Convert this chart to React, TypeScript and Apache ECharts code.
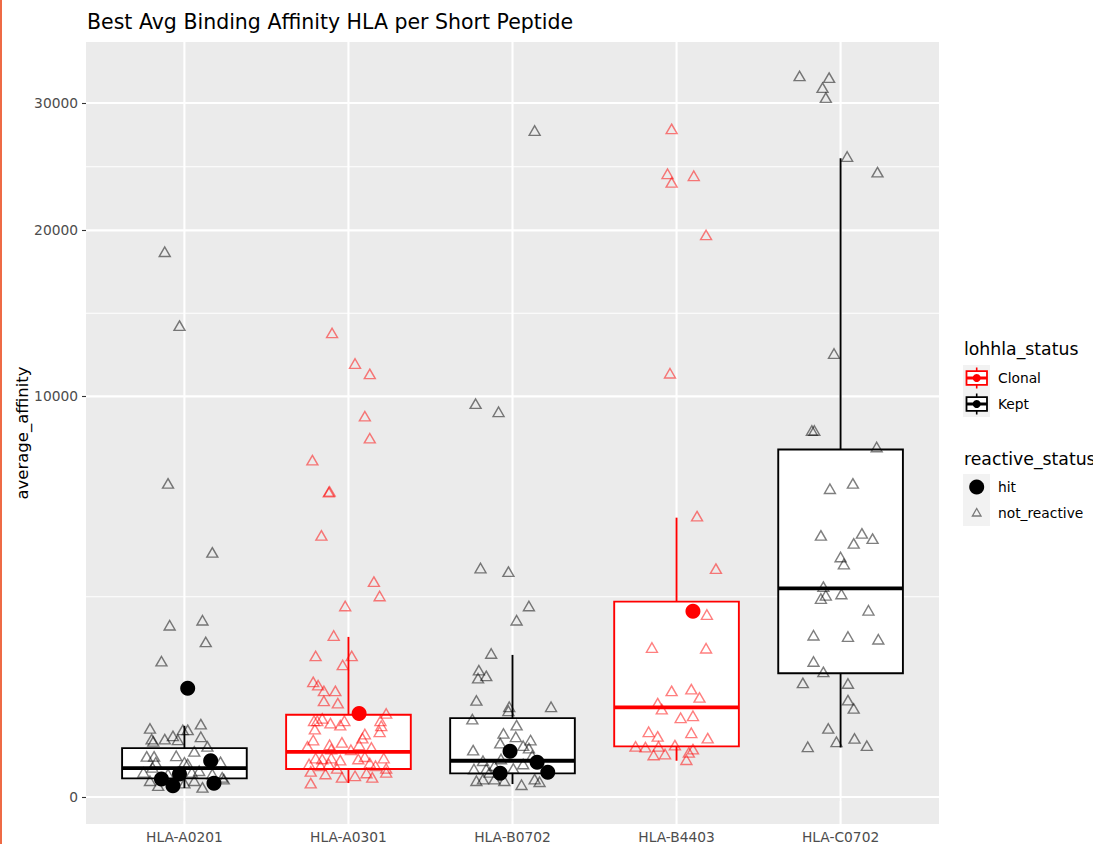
import React, { useEffect, useRef } from 'react';
import * as echarts from 'echarts';

// ---- data -------------------------------------------------------------
const categories = ['HLA-A0201', 'HLA-A0301', 'HLA-B0702', 'HLA-B4403', 'HLA-C0702'];
const lohhlaStatus = ['Kept', 'Clonal', 'Kept', 'Clonal', 'Kept'];

// box statistics per HLA (average_affinity)
const whiskerLow = [5, 12.2, 10.5, 82, 153];
const quartile1 = [21.7, 48.7, 34.9, 160, 955];
const medians = [52, 127, 82, 500, 2714];
const quartile3 = [149, 421, 388, 2379, 7524];
const whiskerHigh = [316, 1597, 1258, 4861, 25424];

// y tick labels (sqrt-transformed axis)
const yTicks = [0, 10000, 20000, 30000];

// jittered peptides: [horizontal jitter, average_affinity]
const notReactiveA0201 = [
  [-0.12, 18520], [-0.03, 13841], [-0.1, 6126], [0.17, 3729], [0.11, 1946], [-0.09, 1838], [0.13, 1498], [-0.14, 1149],
  [-0.21, 293], [0.1, 331], [-0.01, 281], [0.02, 281], [-0.2, 209], [-0.19, 193], [-0.12, 209], [-0.07, 233], [-0.04, 204],
  [0.1, 226], [0.14, 160], [0.06, 130], [-0.23, 103], [-0.185, 103], [-0.05, 106], [-0.175, 75], [0.0, 75], [0.02, 68],
  [0.22, 77], [-0.25, 38], [-0.195, 55], [-0.1, 33], [0.045, 38], [0.09, 43], [0.23, 24], [-0.21, 16.5], [-0.16, 8],
  [0.0, 12], [0.06, 16.5], [0.11, 5.8], [0.17, 33], [0.24, 20],
];
const hitA0201 = [[0.02, 738], [0.16, 82], [-0.14, 20], [-0.03, 33], [-0.07, 8], [0.18, 12]];

const notReactiveA0301 = [
  [-0.1, 13416], [0.04, 11703], [0.13, 11153], [0.1, 9033], [0.13, 8021], [-0.22, 7068], [-0.115, 5817], [-0.12, 5790],
  [-0.165, 4265], [0.155, 2890], [0.19, 2517], [-0.02, 2273], [-0.09, 1624], [-0.2, 1240], [0.02, 1240], [-0.035, 1087],
  [-0.215, 826], [-0.185, 779], [-0.15, 702], [-0.08, 702], [-0.15, 576], [-0.065, 549], [0.23, 435],
  [-0.21, 362], [-0.19, 362], [-0.11, 340], [-0.05, 322], [-0.025, 362], [0.195, 362], [-0.16, 385], [-0.205, 287],
  [0.2, 316], [0.19, 265], [0.1, 247], [0.085, 216], [-0.215, 202], [-0.115, 170], [-0.04, 186], [0.065, 170],
  [-0.25, 160], [0.14, 153], [0.015, 139], [-0.105, 143],
  [-0.2, 94.5], [-0.16, 90], [-0.105, 94.5], [-0.05, 85], [0.06, 90], [0.1, 101], [0.215, 94.5], [-0.24, 68],
  [-0.17, 61], [-0.12, 68], [-0.07, 51], [0.13, 72], [0.165, 61], [0.23, 51], [-0.23, 41], [-0.14, 33], [-0.04, 24],
  [0.04, 28], [0.11, 36], [0.145, 24], [0.23, 38], [-0.23, 12],
];
const hitA0301 = [[0.065, 435]];

const notReactiveB0702 = [
  [0.135, 27665], [-0.225, 9635], [-0.085, 9243], [-0.195, 3266], [-0.025, 3165], [0.1, 2273], [0.025, 1946],
  [-0.13, 1283], [-0.205, 1002], [-0.21, 880], [-0.16, 914], [-0.22, 581], [-0.02, 507], [-0.025, 463], [0.235, 507],
  [-0.245, 378], [0.025, 322], [-0.055, 252], [0.02, 226], [0.11, 202], [-0.075, 181], [0.065, 164], [0.1, 149],
  [-0.24, 137], [0.12, 106], [-0.18, 82], [-0.07, 90], [0.065, 68], [-0.11, 61], [-0.235, 49], [-0.16, 49], [0.005, 51],
  [-0.14, 38], [-0.22, 16.5], [-0.18, 20], [-0.11, 20], [-0.05, 16.5], [0.055, 9.4], [0.135, 20], [0.165, 14.5],
];
const hitB0702 = [[-0.015, 130], [0.15, 75], [-0.075, 35], [0.215, 38]];

const notReactiveB4403 = [
  [-0.03, 27805], [-0.055, 24190], [0.105, 24036], [-0.03, 23529], [0.18, 19678], [-0.04, 11185], [0.125, 4916],
  [0.24, 3249], [0.185, 2074], [-0.15, 1392], [0.18, 1379], [-0.03, 702], [0.09, 725], [0.14, 618], [-0.115, 549],
  [-0.09, 481], [0.025, 391], [0.1, 411], [-0.17, 265], [-0.115, 229], [0.09, 257], [0.19, 216], [-0.25, 160],
  [-0.19, 155], [-0.11, 160], [-0.01, 168], [0.1, 143], [-0.14, 110], [-0.07, 115], [0.075, 124], [0.06, 86.5],
];
const hitB4403 = [[0.1, 2149]];

const notReactiveC0702 = [
  [-0.25, 32385], [-0.07, 32234], [-0.11, 31344], [-0.09, 30468], [0.04, 25551], [0.225, 24323], [-0.04, 12248],
  [-0.175, 8368], [-0.16, 8368], [0.22, 7632], [-0.065, 5920], [0.075, 6126], [-0.12, 4265], [0.13, 4330],
  [0.195, 4158], [0.08, 4008], [0.0, 3588], [0.02, 3381], [-0.105, 2758], [-0.09, 2535], [-0.12, 2453], [0.005, 2568],
  [0.17, 2172], [-0.165, 1630], [0.045, 1604], [0.23, 1551], [-0.165, 1144], [-0.105, 975], [-0.23, 812], [0.045, 803],
  [0.045, 585], [0.08, 489], [-0.075, 293], [-0.025, 190], [0.085, 214], [-0.2, 157], [0.16, 164],
];
const hitC0702: number[][] = [];

const notReactiveByHla = [notReactiveA0201, notReactiveA0301, notReactiveB0702, notReactiveB4403, notReactiveC0702];
const hitByHla = [hitA0201, hitA0301, hitB0702, hitB4403, hitC0702];

// ---- styling ------------------------------------------------------------
const FONT = 'DejaVu Sans';
const STATUS_COLOR: Record<string, string> = { Clonal: '#FF0000', Kept: '#000000' };
const STATUS_FADED: Record<string, string> = { Clonal: 'rgba(255,0,0,0.5)', Kept: 'rgba(0,0,0,0.5)' };
const BOX_WIDTH = 0.76;
const X_MIN = 0.4;
const X_MAX = 5.6;
const Y_MIN = -6.73; // sqrt scale units
const Y_MAX = 188.43;

const sqrt = (v: number) => Math.sqrt(v);

function buildPoints(groups: number[][][], status: string) {
  const out: number[][] = [];
  groups.forEach((pts, i) => {
    if (lohhlaStatus[i] !== status) return;
    pts.forEach(([j, v]) => out.push([i + 1 + j, sqrt(v)]));
  });
  return out;
}

function buildOption() {
  const majorY = yTicks.map(sqrt);
  const minorY: number[] = [];
  for (let i = 0; i < majorY.length - 1; i++) minorY.push((majorY[i] + majorY[i + 1]) / 2);
  const hGridData = [
    ...majorY.map((y) => [X_MIN, y, 1]),
    ...minorY.map((y) => [X_MIN, y, 0]),
  ];
  const vGridData = categories.map((_, i) => [i + 1, Y_MIN]);

  const boxData = categories.map((_, i) => [
    i + 1,
    sqrt(whiskerLow[i]),
    sqrt(quartile1[i]),
    sqrt(medians[i]),
    sqrt(quartile3[i]),
    sqrt(whiskerHigh[i]),
    lohhlaStatus[i] === 'Clonal' ? 1 : 0,
  ]);

  const triangleSeries = (status: string) => ({
    type: 'scatter',
    name: status + ' not_reactive',
    data: buildPoints(notReactiveByHla, status),
    symbol: 'triangle',
    symbolSize: [11, 9.5],
    itemStyle: { color: 'rgba(0,0,0,0)', borderColor: STATUS_FADED[status], borderWidth: 1.4, opacity: 1 },
    silent: true,
    z: 4,
  });
  const hitSeries = (status: string) => ({
    type: 'scatter',
    name: status + ' hit',
    data: buildPoints(hitByHla, status),
    symbol: 'circle',
    symbolSize: 15,
    itemStyle: { color: STATUS_COLOR[status], opacity: 1 },
    silent: true,
    z: 5,
  });

  const legendKeyBox = (cy: number, color: string) => [
    { type: 'rect', shape: { x: 963, y: cy - 13, width: 27, height: 26 }, style: { fill: '#F2F2F2' } },
    { type: 'line', shape: { x1: 976.7, y1: cy - 10.5, x2: 976.7, y2: cy + 10.5 }, style: { stroke: color, lineWidth: 1.6 } },
    { type: 'rect', shape: { x: 966.5, y: cy - 6.8, width: 20.5, height: 13.6 }, style: { fill: '#fff', stroke: color, lineWidth: 1.8 } },
    { type: 'line', shape: { x1: 966.5, y1: cy, x2: 987, y2: cy }, style: { stroke: color, lineWidth: 3 } },
    { type: 'circle', shape: { cx: 976.7, cy, r: 4 }, style: { fill: color } },
  ];
  const label = (x: number, y: number, text: string, size: number, color = '#000') => ({
    type: 'text',
    x,
    y,
    style: { text, fontFamily: FONT, fontSize: size, fill: color, align: 'left', verticalAlign: 'middle' },
  });

  return {
    animation: false,
    backgroundColor: '#ffffff',
    grid: {
      left: 86,
      top: 42,
      width: 853,
      height: 783,
      show: true,
      backgroundColor: '#EBEBEB',
      borderWidth: 0,
      containLabel: false,
    },
    xAxis: {
      type: 'value',
      min: X_MIN,
      max: X_MAX,
      axisLine: { show: false },
      splitLine: { show: false },
      axisTick: {
        show: true,
        customValues: categories.map((_, i) => i + 1),
        length: 4,
        lineStyle: { color: '#333333', width: 1.1 },
      },
      axisLabel: {
        customValues: categories.map((_, i) => i + 1),
        formatter: (v: number) => categories[Math.round(v) - 1] ?? '',
        fontFamily: FONT,
        fontSize: 13.8,
        color: '#4D4D4D',
        margin: 6,
      },
    },
    yAxis: {
      type: 'value',
      min: Y_MIN,
      max: Y_MAX,
      axisLine: { show: false },
      splitLine: { show: false },
      axisTick: {
        show: true,
        customValues: yTicks.map(sqrt),
        length: 4,
        lineStyle: { color: '#333333', width: 1.1 },
      },
      axisLabel: {
        customValues: yTicks.map(sqrt),
        formatter: (v: number) => String(Math.round(v * v)),
        fontFamily: FONT,
        fontSize: 13.8,
        color: '#4D4D4D',
        margin: 8,
      },
    },
    series: [
      {
        type: 'custom',
        name: 'grid-h',
        silent: true,
        z: 1,
        data: hGridData,
        encode: { x: 0, y: 1 },
        renderItem: (_p: any, api: any) => {
          const y = api.value(1);
          const a = api.coord([X_MIN, y]);
          const b = api.coord([X_MAX, y]);
          return {
            type: 'line',
            shape: { x1: a[0], y1: a[1], x2: b[0], y2: b[1] },
            style: { stroke: '#FFFFFF', lineWidth: api.value(2) ? 2.1 : 1.05 },
          };
        },
      },
      {
        type: 'custom',
        name: 'grid-v',
        silent: true,
        z: 1,
        data: vGridData,
        encode: { x: 0, y: 1 },
        renderItem: (_p: any, api: any) => {
          const x = api.value(0);
          const a = api.coord([x, Y_MIN]);
          const b = api.coord([x, Y_MAX]);
          return {
            type: 'line',
            shape: { x1: a[0], y1: a[1], x2: b[0], y2: b[1] },
            style: { stroke: '#FFFFFF', lineWidth: 2.1 },
          };
        },
      },
      {
        type: 'custom',
        name: 'boxplot',
        silent: true,
        z: 3,
        data: boxData,
        encode: { x: 0, y: [1, 2, 3, 4, 5] },
        renderItem: (_p: any, api: any) => {
          const x = api.value(0);
          const color = api.value(6) ? STATUS_COLOR.Clonal : STATUS_COLOR.Kept;
          const pLo = api.coord([x, api.value(1)]);
          const pQ1 = api.coord([x, api.value(2)]);
          const pMed = api.coord([x, api.value(3)]);
          const pQ3 = api.coord([x, api.value(4)]);
          const pHi = api.coord([x, api.value(5)]);
          const half = api.size([BOX_WIDTH, 0])[0] / 2;
          return {
            type: 'group',
            children: [
              { type: 'line', shape: { x1: pHi[0], y1: pHi[1], x2: pQ3[0], y2: pQ3[1] }, style: { stroke: color, lineWidth: 1.9 } },
              { type: 'line', shape: { x1: pQ1[0], y1: pQ1[1], x2: pLo[0], y2: pLo[1] }, style: { stroke: color, lineWidth: 1.9 } },
              {
                type: 'rect',
                shape: { x: pMed[0] - half, y: pQ3[1], width: half * 2, height: pQ1[1] - pQ3[1] },
                style: { fill: '#FFFFFF', stroke: color, lineWidth: 1.9 },
              },
              { type: 'line', shape: { x1: pMed[0] - half, y1: pMed[1], x2: pMed[0] + half, y2: pMed[1] }, style: { stroke: color, lineWidth: 3.8 } },
            ],
          };
        },
      },
      triangleSeries('Kept'),
      triangleSeries('Clonal'),
      hitSeries('Kept'),
      hitSeries('Clonal'),
    ],
    graphic: [
      { type: 'rect', shape: { x: 0, y: 0, width: 2, height: 844 }, style: { fill: '#EE6A45' } },
      {
        type: 'text',
        x: 87,
        y: 22,
        style: { text: 'Best Avg Binding Affinity HLA per Short Peptide', fontFamily: FONT, fontSize: 20.5, fill: '#000', align: 'left', verticalAlign: 'middle' },
      },
      {
        type: 'text',
        x: 22,
        y: 433,
        rotation: Math.PI / 2,
        style: { text: 'average_affinity', fontFamily: FONT, fontSize: 16.5, fill: '#000', align: 'center', verticalAlign: 'middle' },
      },
      label(964, 349, 'lohhla_status', 17.3),
      ...legendKeyBox(378, STATUS_COLOR.Clonal),
      ...legendKeyBox(404, STATUS_COLOR.Kept),
      label(998, 378, 'Clonal', 13.8),
      label(998, 404, 'Kept', 13.8),
      label(964, 459, 'reactive_status', 17.3),
      { type: 'rect', shape: { x: 963, y: 474, width: 27, height: 52 }, style: { fill: '#F2F2F2' } },
      { type: 'circle', shape: { cx: 976.7, cy: 487, r: 7.5 }, style: { fill: '#000' } },
      {
        type: 'polygon',
        shape: { points: [[976.7, 508.5], [981, 516], [972.4, 516]] },
        style: { fill: 'none', stroke: 'rgba(0,0,0,0.5)', lineWidth: 1.3 },
      },
      label(998, 487, 'hit', 13.8),
      label(998, 513, 'not_reactive', 13.8),
    ],
  };
}

export default function App() {
  const ref = useRef<HTMLDivElement>(null);
  useEffect(() => {
    if (!ref.current) return;
    const chart = echarts.init(ref.current, null, { renderer: 'svg' });
    chart.setOption(buildOption() as any);
    return () => chart.dispose();
  }, []);
  return (
    <div
      ref={ref}
      style={{ position: 'absolute', left: 0, top: 0, width: 1093, height: 844, background: '#ffffff' }}
    />
  );
}
